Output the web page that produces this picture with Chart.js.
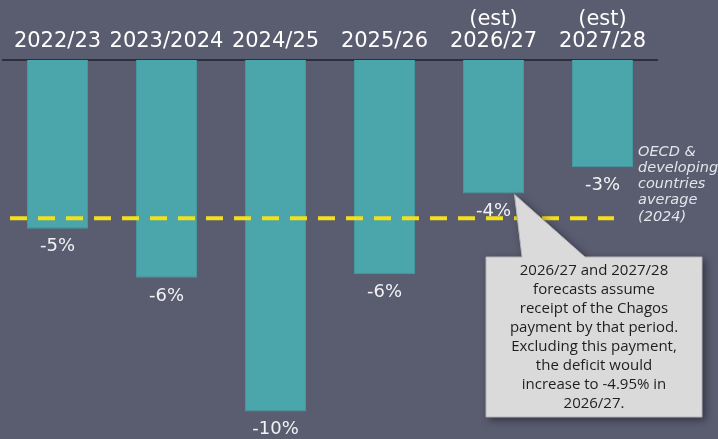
<!DOCTYPE html>
<html>
<head>
<meta charset="utf-8">
<script src="https://cdn.jsdelivr.net/npm/chart.js@4"></script>
<style>
  html, body { margin: 0; padding: 0; background: #5a5c70; }
  #wrap { width: 718px; height: 439px; position: relative; }
</style>
</head>
<body>
<div id="wrap"><canvas id="chart"></canvas></div>
<script>
// data (deficit as % of GDP)
const years = ['2022/23', '2023/2024', '2024/25', '2025/26', ['(est)', '2026/27'], ['(est)', '2027/28']]
const deficit = [-4.8, -6.2, -10.0, -6.1, -3.8, -3.05]
const oecdAverage = -4.5
const noteLines = ['OECD &', 'developing', 'countries', 'average', '(2024)']
const calloutLines = [
  '2026/27 and 2027/28',
  'forecasts assume',
  'receipt of the Chagos',
  'payment by that period.',
  'Excluding this payment,',
  'the deficit would',
  'increase to -4.95% in',
  '2026/27.'
]

const TEAL = '#4ba6ab'

// value labels under each bar
const valueLabels = {
  id: 'valueLabels',
  afterDatasetsDraw (chart) {
    const ctx = chart.ctx
    const meta = chart.getDatasetMeta(0)
    ctx.save()
    ctx.font = '18px "DejaVu Sans"'
    ctx.fillStyle = '#f2f2f4'
    ctx.textAlign = 'center'
    ctx.textBaseline = 'middle'
    meta.data.forEach((bar, i) => {
      ctx.fillText(Math.round(deficit[i]) + '%', bar.x, bar.y + 18)
    })
    ctx.restore()
  }
}

// dashed OECD line, side note and callout box
const overlay = {
  id: 'overlay',
  afterDatasetsDraw (chart) {
    const ctx = chart.ctx
    const y = chart.scales.y.getPixelForValue(oecdAverage)
    ctx.save()
    ctx.strokeStyle = '#f3e01c'
    ctx.lineWidth = 4
    ctx.setLineDash([17, 11])
    ctx.beginPath()
    ctx.moveTo(10, y)
    ctx.lineTo(614, y)
    ctx.stroke()
    ctx.restore()
  },
  afterDraw (chart) {
    const ctx = chart.ctx
    ctx.save()
    ctx.font = 'italic 14.5px "DejaVu Sans"'
    ctx.fillStyle = '#e4e4ea'
    ctx.textAlign = 'left'
    ctx.textBaseline = 'middle'
    noteLines.forEach((t, i) => ctx.fillText(t, 638, 152 + i * 16.2))

    // callout pointing at the 2026/27 bar
    const bar = chart.getDatasetMeta(0).data[4]
    const tipX = bar.x + 21
    const tipY = bar.y + 1
    const left = 486, right = 702, top = 257, bottom = 417
    ctx.beginPath()
    ctx.moveTo(left, top)
    ctx.lineTo(522, top)
    ctx.lineTo(tipX, tipY)
    ctx.lineTo(585, top)
    ctx.lineTo(right, top)
    ctx.lineTo(right, bottom)
    ctx.lineTo(left, bottom)
    ctx.closePath()
    ctx.shadowColor = 'rgba(20,20,30,0.6)'
    ctx.shadowBlur = 8
    ctx.shadowOffsetX = 3
    ctx.shadowOffsetY = 3
    ctx.fillStyle = '#dadada'
    ctx.fill()
    ctx.shadowColor = 'transparent'
    ctx.strokeStyle = '#b4b4b4'
    ctx.lineWidth = 1
    ctx.stroke()

    ctx.font = '15px "Open Sans"'
    ctx.fillStyle = '#1e1e1e'
    ctx.textAlign = 'center'
    calloutLines.forEach((t, i) => ctx.fillText(t, (left + right) / 2, 271 + i * 19))
    ctx.restore()
  }
}

new Chart(document.getElementById('chart'), {
  type: 'bar',
  data: {
    labels: years,
    datasets: [{
      data: deficit,
      backgroundColor: TEAL,
      borderColor: '#45999e',
      borderWidth: 1,
      borderSkipped: 'start',
      categoryPercentage: 1,
      barPercentage: 0.56
    }]
  },
  options: {
    responsive: true,
    maintainAspectRatio: false,
    animation: false,
    layout: { padding: { left: 3, right: 61, top: 0, bottom: 3 } },
    plugins: {
      legend: { display: false },
      tooltip: { enabled: false }
    },
    scales: {
      x: {
        position: 'top',
        grid: { display: false, drawTicks: false },
        border: { display: true, color: '#2c2e3b', width: 2 },
        ticks: {
          color: '#ffffff',
          font: { family: 'DejaVu Sans', size: 21, lineHeight: 1.05 },
          padding: 7,
          autoSkip: false,
          maxRotation: 0,
          minRotation: 0
        },
        afterFit: (scale) => { scale.height = 60 }
      },
      y: {
        display: false,
        min: -10.7,
        max: 0
      }
    }
  },
  plugins: [valueLabels, overlay]
})
</script>
</body>
</html>
